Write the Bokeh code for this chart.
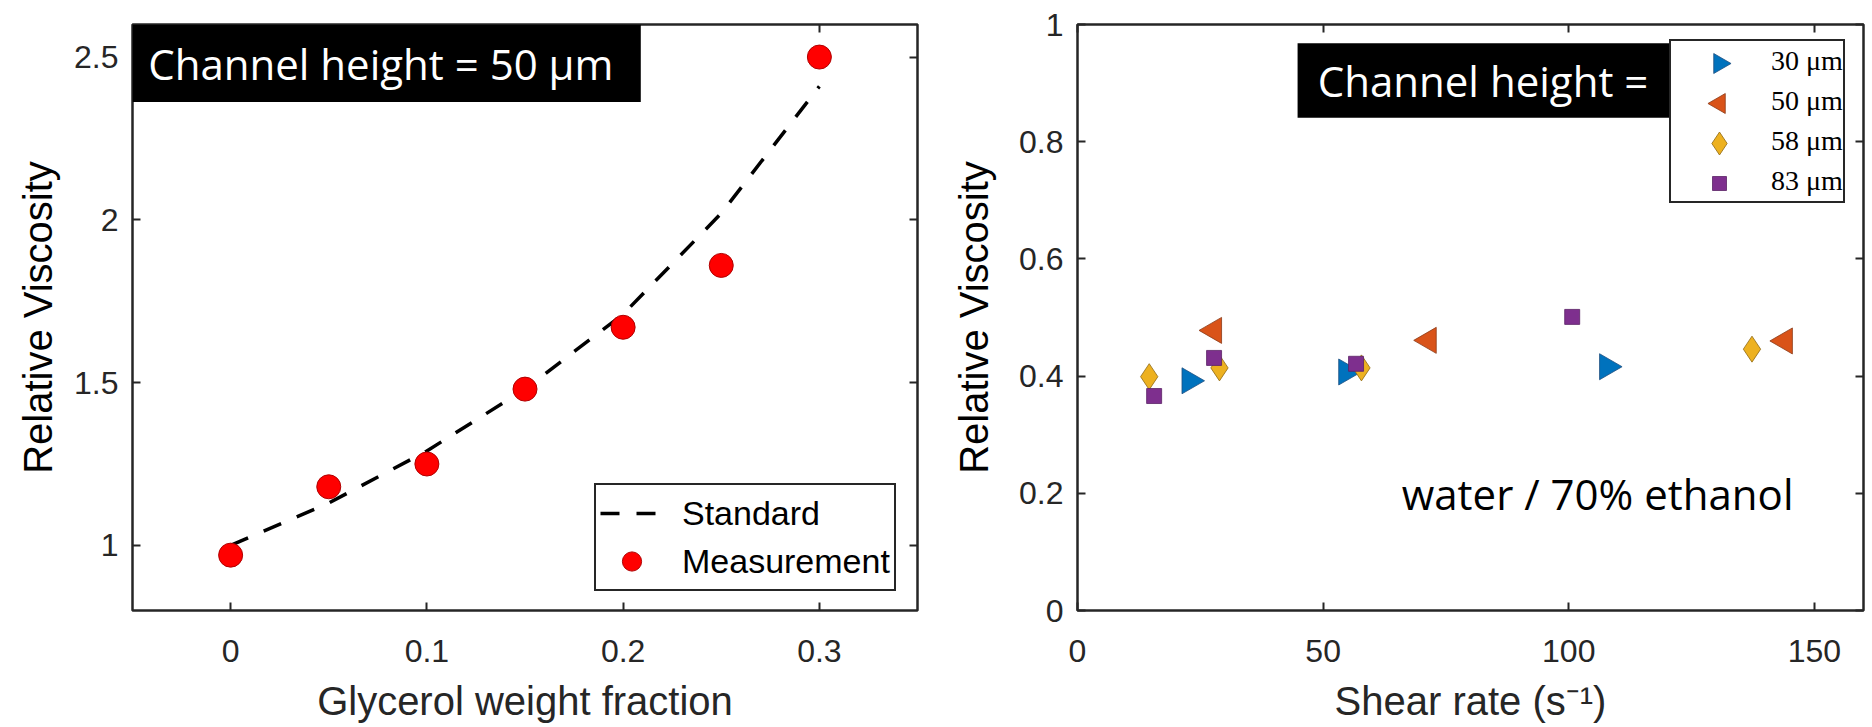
import math
from bokeh.plotting import figure
from bokeh.layouts import row
from bokeh.models import (Range1d, FixedTicker, LinearAxis, Legend, LegendItem,
                          BoxAnnotation, Label, CustomJSTickFormatter)
from bokeh.embed import file_html
from bokeh.resources import INLINE

# ---------------- data: left panel ----------------
glycerol_fraction = [0.00, 0.05, 0.10, 0.15, 0.20, 0.25, 0.30]
measured_viscosity = [0.97, 1.18, 1.25, 1.48, 1.67, 1.86, 2.50]
standard_fraction = [0.00, 0.05, 0.10, 0.15, 0.20, 0.25, 0.30]
standard_viscosity = [1.00, 1.13, 1.29, 1.48, 1.71, 2.02, 2.41]
left_x_ticks = [0, 0.1, 0.2, 0.3]
left_x_labels = ["0", "0.1", "0.2", "0.3"]
left_y_ticks = [1, 1.5, 2, 2.5]
left_y_labels = ["1", "1.5", "2", "2.5"]

# ---------------- data: right panel ----------------
shear_30 = [22.8, 54.7, 107.8]
visc_30 = [0.392, 0.407, 0.416]
shear_50 = [27.8, 71.5, 144.0]
visc_50 = [0.478, 0.461, 0.460]
shear_58 = [14.6, 28.9, 57.8, 137.3]
visc_58 = [0.399, 0.414, 0.414, 0.446]
shear_83 = [15.6, 27.8, 56.7, 100.7]
visc_83 = [0.366, 0.431, 0.421, 0.501]
series_labels = ["30 μm", "50 μm", "58 μm", "83 μm"]
right_x_ticks = [0, 50, 100, 150]
right_x_labels = ["0", "50", "100", "150"]
right_y_ticks = [0, 0.2, 0.4, 0.6, 0.8, 1]
right_y_labels = ["0", "0.2", "0.4", "0.6", "0.8", "1"]

AX = "#262626"
TICK_FONT = "Liberation Sans"
BOX_FONT = "Open Sans"

# frame geometry (pixels) and right-legend layout
FRAME_W, FRAME_H = 786, 586
R_X0, R_X1, R_Y0, R_Y1 = 0, 160, 0, 1
LEG2_X, LEG2_Y, LEG2_ROW = 592, 407, 40        # legend left / bottom (frame px), row pitch
LEG2_TOP = LEG2_Y + 4 * LEG2_ROW
LEG2_KEY_X = LEG2_X + 50


def px_to_data_x(px):
    return R_X0 + px / FRAME_W * (R_X1 - R_X0)


def px_to_data_y(px):
    return R_Y0 + px / FRAME_H * (R_Y1 - R_Y0)


def empty_fmt():
    return CustomJSTickFormatter(code="return ''")


def style(p, xt, xl, yt, yl, xlabel, ylabel, ylab_standoff):
    p.grid.visible = False
    p.outline_line_color = AX
    p.outline_line_width = 2.5
    xa, ya = p.below[0], p.left[0]
    xa.ticker = FixedTicker(ticks=xt)
    ya.ticker = FixedTicker(ticks=yt)
    xa.major_label_overrides = dict(zip(xt, xl))
    ya.major_label_overrides = dict(zip(yt, yl))
    for ax in (xa, ya):
        ax.axis_line_color = None
        ax.major_tick_in = 8
        ax.major_tick_out = 0
        ax.major_tick_line_color = AX
        ax.major_tick_line_width = 2
        ax.minor_tick_line_color = None
        ax.major_label_text_font = TICK_FONT
        ax.major_label_text_font_size = "32px"
        ax.major_label_text_color = AX
        ax.axis_label_text_font = TICK_FONT
        ax.axis_label_text_font_style = "normal"
    xa.major_label_standoff = 29
    ya.major_label_standoff = 14
    xa.axis_label = xlabel
    xa.axis_label_text_font_size = "40px"
    xa.axis_label_text_color = AX
    xa.axis_label_standoff = 14
    ya.axis_label = ylabel
    ya.axis_label_text_font_size = "40px"
    ya.axis_label_text_color = "#000000"
    ya.axis_label_standoff = ylab_standoff
    # mirrored ticks on the top and right edges
    for ticks, side in ((xt, "above"), (yt, "right")):
        ax = LinearAxis(ticker=FixedTicker(ticks=ticks), formatter=empty_fmt(),
                        axis_line_color=None, major_tick_in=8, major_tick_out=0,
                        major_tick_line_color=AX, major_tick_line_width=2,
                        minor_tick_line_color=None, major_label_standoff=0)
        p.add_layout(ax, side)


# ---------------- left figure ----------------
p1 = figure(width=945, height=727, output_backend="svg", toolbar_location=None,
            x_range=Range1d(-0.05, 0.35), y_range=Range1d(0.8, 2.6),
            min_border_left=132, min_border_right=28, min_border_top=24,
            min_border_bottom=117, background_fill_color="white",
            border_fill_color="white")
style(p1, left_x_ticks, left_x_labels, left_y_ticks, left_y_labels,
      "Glycerol weight fraction", "Relative Viscosity", 11)

std = p1.line(standard_fraction, standard_viscosity, line_color="black",
              line_width=3.5, line_dash="19 17")
meas = p1.scatter(glycerol_fraction, measured_viscosity, marker="circle", size=24,
                  fill_color="#ff0000", line_color="#b00000", line_width=1)

p1.add_layout(BoxAnnotation(left=-0.05, right=0.209, bottom=2.362, top=2.6,
                            fill_color="black", fill_alpha=1, line_color=None))
p1.add_layout(Label(x=-0.042, y=2.481, text="Channel height = 50 µm",
                    text_baseline="middle", text_color="white",
                    text_font=BOX_FONT, text_font_size="42px"))

leg1 = Legend(items=[LegendItem(label="Standard", renderers=[std]),
                     LegendItem(label="Measurement", renderers=[meas])],
              location=(462, 19), padding=4, spacing=-4, glyph_height=48,
              label_height=40, glyph_width=63, label_standoff=19,
              label_text_font=TICK_FONT, label_text_font_size="34px",
              label_text_color="#000000", border_line_color=AX,
              border_line_width=2.5, border_line_alpha=1,
              background_fill_color="white", background_fill_alpha=1, margin=0)
p1.add_layout(leg1, "center")

# ---------------- right figure ----------------
p2 = figure(width=927, height=727, output_backend="svg", toolbar_location=None,
            x_range=Range1d(R_X0, R_X1), y_range=Range1d(R_Y0, R_Y1),
            min_border_left=132, min_border_right=9, min_border_top=24,
            min_border_bottom=117, background_fill_color="white",
            border_fill_color="white")
style(p2, right_x_ticks, right_x_labels, right_y_ticks, right_y_labels,
      "Shear rate (s⁻¹)", "Relative Viscosity", 20)

series = [
    (shear_30, visc_30, "triangle", -math.pi / 2, 26, 20, "#0072BD", "#1f4f80"),
    (shear_50, visc_50, "triangle", math.pi / 2, 26, 20, "#D95319", "#8a3a17"),
    (shear_58, visc_58, "diamond", 0.0, 26, 23, "#EDB120", "#8f6a14"),
    (shear_83, visc_83, "square", 0.0, 15, 14, "#7E2F8E", "#5a2266"),
]

p2.add_layout(BoxAnnotation(left=44.8, right=120.5, bottom=0.841, top=0.968,
                            fill_color="black", fill_alpha=1, line_color=None))
p2.add_layout(Label(x=48.9, y=0.904, text="Channel height =",
                    text_baseline="middle", text_color="white",
                    text_font=BOX_FONT, text_font_size="42px"))
p2.add_layout(Label(x=66, y=0.2, text="water / 70% ethanol",
                    text_baseline="middle", text_color="black",
                    text_font=BOX_FONT, text_font_size="42px"))

items = []
for i, (xs, ys, mk, ang, sz, ksz, fc, lc) in enumerate(series):
    p2.scatter(xs, ys, marker=mk, angle=ang, size=sz, fill_color=fc,
               line_color=lc, line_width=0.8)
    kx = px_to_data_x(LEG2_KEY_X)
    ky = px_to_data_y(LEG2_TOP - LEG2_ROW / 2 - i * LEG2_ROW)
    # invisible stand-in for the legend row; the real (rotated) key shows through
    ghost = p2.scatter([kx], [ky], marker=mk, size=ksz, fill_alpha=0, line_alpha=0)
    p2.scatter([kx], [ky], marker=mk, angle=ang, size=ksz, fill_color=fc,
               line_color=lc, line_width=0.8)
    items.append(LegendItem(label=series_labels[i], renderers=[ghost]))

leg2 = Legend(items=items, location=(LEG2_X, LEG2_Y), padding=0, spacing=0,
              glyph_height=LEG2_ROW, label_height=LEG2_ROW, glyph_width=100,
              label_standoff=-13, label_text_font="Liberation Serif",
              label_text_font_size="28px", label_text_color="#000000",
              border_line_color=AX, border_line_width=2.5, border_line_alpha=1,
              background_fill_alpha=0, margin=0)
p2.add_layout(leg2, "center")

layout = row(p1, p2, spacing=0)
open("out.html", "w").write(file_html(layout, INLINE))
